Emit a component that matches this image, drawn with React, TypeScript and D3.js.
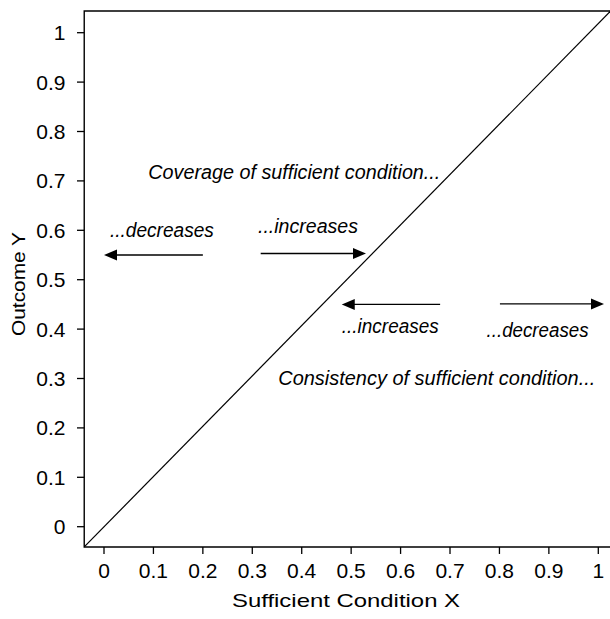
import React from 'react';
import * as d3 from 'd3';

// ---- data ----
const tickValues = [0, 0.1, 0.2, 0.3, 0.4, 0.5, 0.6, 0.7, 0.8, 0.9, 1];
const tickLabels = ['0', '0.1', '0.2', '0.3', '0.4', '0.5', '0.6', '0.7', '0.8', '0.9', '1'];
const boxX = [-0.04, 1.026];
const boxY = [-0.041, 1.044];
// diagonal drawn corner to corner of the plotting box
const diagX = [-0.04, 1.025];
const diagY = [-0.041, 1.044];
// arrows (tail -> tip) at height arrowY
const arrowFrom = [0.2, 0.317, 0.68, 0.801];
const arrowTo = [0, 0.53, 0.481, 1.0115];
const arrowY = [0.55, 0.553, 0.45, 0.451];
// annotations
const noteText = [
  'Coverage of sufficient condition...',
  '...decreases',
  '...increases',
  '...increases',
  '...decreases',
  'Consistency of sufficient condition...',
];
const noteX = [0.0897, 0.012, 0.3115, 0.481, 0.774, 0.3526];
const noteY = [0.704, 0.587, 0.5945, 0.3915, 0.3846, 0.2868];
const noteWidth = [292, 104, 100, 97, 102, 317];

const xTitle = 'Sufficient Condition X';
const yTitle = 'Outcome Y';

const W = 610;
const H = 619;
const FONT = '"Liberation Sans", Arial, sans-serif';

export default function App() {
  const x = d3.scaleLinear().domain([0, 1]).range([104, 598.3]);
  const y = d3.scaleLinear().domain([0, 1]).range([526.7, 32.7]);

  const left = x(boxX[0]);
  const right = x(boxX[1]) + 2;
  const top = y(boxY[1]);
  const bottom = y(boxY[0]);
  const line = d3.line<[number, number]>().x((d) => x(d[0])).y((d) => y(d[1]));
  const diag: [number, number][] = [
    [diagX[0], diagY[0]],
    [diagX[1], diagY[1]],
  ];

  return (
    <svg
      width={W}
      height={H}
      style={{ position: 'absolute', left: 0, top: 0, background: '#fff' }}
      fontFamily={FONT}
    >
      <rect x={0} y={0} width={W} height={H} fill="#fff" />
      {/* box */}
      <path
        d={`M${right},${top}H${left}V${bottom}H${right}`}
        fill="none"
        stroke="#000"
        strokeWidth={1.4}
      />
      {/* diagonal */}
      <path d={line(diag) || ''} fill="none" stroke="#000" strokeWidth={1.2} />

      {/* y axis ticks */}
      {tickValues.map((t, i) => (
        <g key={'y' + i}>
          <line x1={77} x2={left} y1={y(t)} y2={y(t)} stroke="#000" strokeWidth={1.3} />
          <text x={65.5} y={y(t)} dy="0.36em" textAnchor="end" fontSize={21} fill="#000">
            {tickLabels[i]}
          </text>
        </g>
      ))}
      {/* x axis ticks */}
      {tickValues.map((t, i) => (
        <g key={'x' + i}>
          <line x1={x(t)} x2={x(t)} y1={bottom} y2={bottom + 7} stroke="#000" strokeWidth={1.3} />
          <text x={x(t)} y={577.5} textAnchor="middle" fontSize={21} fill="#000">
            {tickLabels[i]}
          </text>
        </g>
      ))}

      {/* arrows */}
      {arrowFrom.map((f, i) => {
        const tip = x(arrowTo[i]);
        const tail = x(f);
        const yy = y(arrowY[i]);
        const dir = tip > tail ? 1 : -1;
        const hl = 13;
        const hw = 5.5;
        return (
          <g key={'a' + i}>
            <line x1={tail} x2={tip - dir * (hl - 2)} y1={yy} y2={yy} stroke="#000" strokeWidth={1.4} />
            <path
              d={`M${tip},${yy}L${tip - dir * hl},${yy - hw}L${tip - dir * hl},${yy + hw}Z`}
              fill="#000"
            />
          </g>
        );
      })}

      {/* annotations */}
      {noteText.map((t, i) => (
        <text
          key={'n' + i}
          x={x(noteX[i])}
          y={y(noteY[i])}
          fontSize={20}
          fontStyle="italic"
          textLength={noteWidth[i]}
          lengthAdjust="spacingAndGlyphs"
          fill="#000"
        >
          {t}
        </text>
      ))}

      {/* axis titles */}
      <text
        x={346}
        y={607}
        textAnchor="middle"
        fontSize={19}
        textLength={228}
        lengthAdjust="spacingAndGlyphs"
        fill="#000"
      >
        {xTitle}
      </text>
      <text
        transform="translate(25,284) rotate(-90)"
        textAnchor="middle"
        fontSize={19}
        textLength={104}
        lengthAdjust="spacingAndGlyphs"
        fill="#000"
      >
        {yTitle}
      </text>
    </svg>
  );
}
